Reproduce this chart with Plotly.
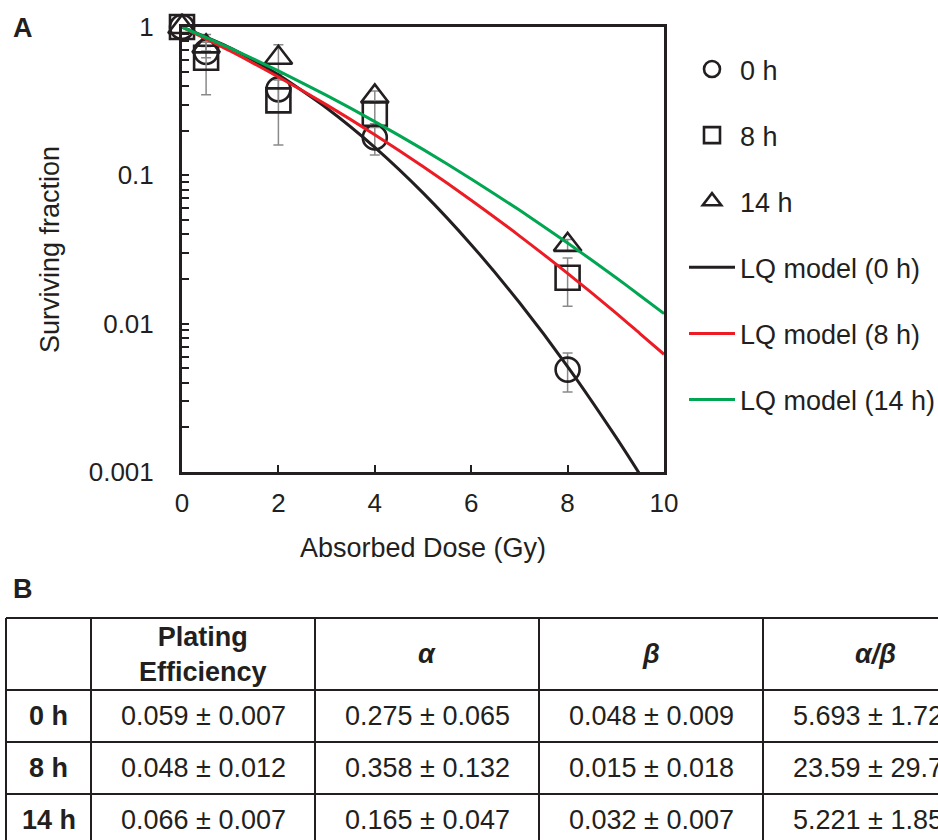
import plotly.graph_objects as go

# ---------------- data ----------------
dose_pts = [0, 0.5, 2, 4, 8]
sf_0h = [1.0, 0.68, 0.38, 0.18, 0.0049]
err_0h = [0.0, 0.06, 0.06, 0.043, 0.00144]
sf_8h = [1.0, 0.62, 0.32, 0.26, 0.0204]
err_8h = [0.0, 0.27, 0.16, 0.05, 0.0073]
sf_14h = [1.0, 0.74, 0.62, 0.34, 0.034]
err_14h = [0.0, 0.05, 0.14, 0.03, 0.003]

dose_fit = [0, 1, 2, 3, 4, 5, 6, 7, 8, 9, 9.5, 10]
lq_0h = [1.0, 0.724, 0.476, 0.2845, 0.1545, 0.0762, 0.0341, 0.01388, 0.00514, 0.001725, 0.000964, 0.000526]
lq_8h = [1.0, 0.6887, 0.460, 0.2985, 0.1879, 0.1147, 0.0680, 0.0391, 0.02184, 0.01184, 0.00858, 0.00622]
lq_14h = [1.0, 0.7204, 0.5056, 0.3458, 0.2304, 0.1496, 0.0946, 0.0583, 0.0350, 0.0205, 0.0155, 0.01168]

y_tickvals = [0.001, 0.01, 0.1, 1]
y_ticktext = ["0.001", "0.01", "0.1", "1"]
y_minor = [m * 10 ** e for e in (-3, -2, -1) for m in range(2, 10)]

table_header = ["", "<b>Plating<br>Efficiency</b>", "<b><i>α</i></b>", "<b><i>β</i></b>", "<b><i>α/β</i></b>"]
table_rows = ["<b>0 h</b>", "<b>8 h</b>", "<b>14 h</b>"]
table_pe = ["0.059 ± 0.007", "0.048 ± 0.012", "0.066 ± 0.007"]
table_alpha = ["0.275 ± 0.065", "0.358 ± 0.132", "0.165 ± 0.047"]
table_beta = ["0.048 ± 0.009", "0.015 ± 0.018", "0.032 ± 0.007"]
table_ab = ["5.693 ± 1.723", "23.59 ± 29.71", "5.221 ± 1.851"]

# ---------------- layout helpers ----------------
W, H = 938, 840
L, R, T, B = 182, 664, 27, 472
FONT = "Liberation Sans, Arial, Helvetica, sans-serif"
INK = "#231f20"


def xp(px):
    return (px - L) / (R - L)


def yp(py):
    return (B - py) / (B - T)


fig = go.Figure()

marker_series = [
    ("0 h", sf_0h, err_0h, "circle-open"),
    ("8 h", sf_8h, err_8h, "square-open"),
    ("14 h", sf_14h, err_14h, "triangle-up-open"),
]
for i, (name, ys, es, sym) in enumerate(marker_series):
    fig.add_trace(go.Scatter(
        x=dose_pts, y=ys, mode="markers", name=name, legendgroup=f"g{i}",
        marker=dict(symbol=sym, size=24, color=INK, line=dict(width=2.6, color=INK)),
        error_y=dict(type="data", array=es, visible=True, color="#8a8a8a",
                     thickness=1.5, width=5),
        cliponaxis=False,
    ))

line_series = [
    ("LQ model (0 h)", lq_0h, INK),
    ("LQ model (8 h)", lq_8h, "#ED1C24"),
    ("LQ model (14 h)", lq_14h, "#00A651"),
]
for i, (name, ys, col) in enumerate(line_series):
    fig.add_trace(go.Scatter(
        x=dose_fit, y=ys, mode="lines", name=name, legendgroup=f"h{i}",
        line=dict(color=col, width=3, shape="spline", smoothing=0.6),
    ))

# ---------------- table (panel B) ----------------
shapes = []
hlines = [618, 690, 742, 794, 846]
vlines = [6, 91, 315, 539, 763, 987]
for py in hlines:
    shapes.append(dict(type="line", xref="paper", yref="paper",
                       x0=xp(vlines[0]), x1=xp(vlines[-1]), y0=yp(py), y1=yp(py),
                       line=dict(color=INK, width=2)))
for px in vlines:
    shapes.append(dict(type="line", xref="paper", yref="paper",
                       x0=xp(px), x1=xp(px), y0=yp(hlines[0]), y1=yp(hlines[-1]),
                       line=dict(color=INK, width=2)))

annotations = []
col_centers = [(vlines[i] + vlines[i + 1]) / 2 for i in range(5)]
row_centers = [(hlines[i] + hlines[i + 1]) / 2 for i in range(4)]
for c, txt in enumerate(table_header):
    annotations.append(dict(x=xp(col_centers[c]), y=yp(row_centers[0]), xref="paper", yref="paper",
                            text=txt, showarrow=False, font=dict(size=27, color=INK, family=FONT),
                            xanchor="center", yanchor="middle"))
columns = [table_rows, table_pe, table_alpha, table_beta, table_ab]
for c, col in enumerate(columns):
    for r, txt in enumerate(col):
        annotations.append(dict(x=xp(col_centers[c]), y=yp(row_centers[r + 1]), xref="paper", yref="paper",
                                text=txt, showarrow=False, font=dict(size=27, color=INK, family=FONT),
                                xanchor="center", yanchor="middle"))

annotations.append(dict(x=xp(11), y=yp(28), xref="paper", yref="paper", text="<b>A</b>",
                        showarrow=False, xanchor="left", yanchor="middle",
                        font=dict(size=27, color=INK, family=FONT)))
annotations.append(dict(x=xp(11), y=yp(589), xref="paper", yref="paper", text="<b>B</b>",
                        showarrow=False, xanchor="left", yanchor="middle",
                        font=dict(size=27, color=INK, family=FONT)))

fig.update_layout(
    width=W, height=H,
    margin=dict(l=L, r=W - R, t=T, b=H - B, autoexpand=False),
    paper_bgcolor="white", plot_bgcolor="white",
    font=dict(family=FONT, size=26, color=INK),
    showlegend=True,
    legend=dict(x=xp(684), y=yp(45), xanchor="left", yanchor="top",
                font=dict(size=27, family=FONT, color=INK), itemwidth=46,
                tracegroupgap=28, bgcolor="rgba(0,0,0,0)", borderwidth=0),
    shapes=shapes,
    annotations=annotations,
)
fig.update_xaxes(
    range=[0, 10], tickmode="array", tickvals=[0, 2, 4, 6, 8, 10],
    ticks="inside", ticklen=7, tickwidth=2, tickcolor=INK,
    showline=True, linecolor=INK, linewidth=2.5, mirror=True,
    showgrid=False, zeroline=False,
    tickfont=dict(size=26, family=FONT, color=INK),
    ticklabelstandoff=6,
    title=dict(text="Absorbed Dose (Gy)", font=dict(size=27, family=FONT, color=INK), standoff=22),
)
fig.update_yaxes(
    type="log", range=[-3, 0], tickmode="array", tickvals=y_tickvals, ticktext=y_ticktext,
    ticks="inside", ticklen=7, tickwidth=2, tickcolor=INK,
    minor=dict(tickmode="array", tickvals=y_minor, ticks="inside", ticklen=7, tickwidth=2,
               tickcolor=INK, showgrid=False),
    showline=True, linecolor=INK, linewidth=3, mirror=True,
    showgrid=False, zeroline=False,
    tickfont=dict(size=26, family=FONT, color=INK),
    ticklabelstandoff=20,
    title=dict(text="Surviving fraction", font=dict(size=27, family=FONT, color=INK), standoff=22),
)

fig.write_html("out.html", config={"displayModeBar": False},
               post_script="document.body.style.margin='0px';")
